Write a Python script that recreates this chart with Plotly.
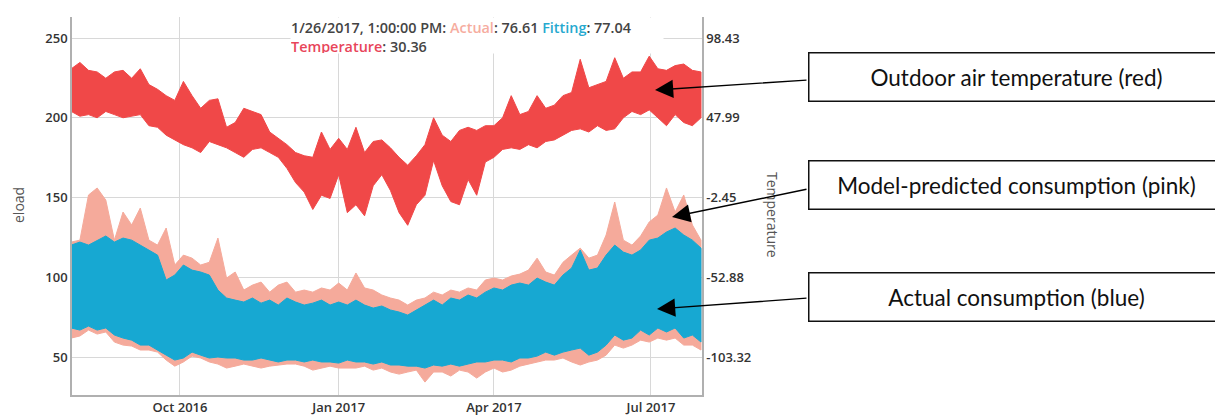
import pandas as pd
import plotly.graph_objects as go

# ---------------- data (5-day envelopes) ----------------
dates = pd.date_range("2016-07-30", periods=74, freq="5D")

temp_high = [79, 83, 78, 77, 73, 77, 78, 73, 79, 69, 66, 62, 59, 71, 62, 54, 59, 60, 42, 45,
             54, 52, 50, 39, 35, 31, 26, 24, 23, 39, 28, 35, 28, 42, 26, 33, 34, 29, 23, 18,
             24, 31, 48, 37, 33, 40, 42, 40, 43, 43, 48, 62, 50, 52, 62, 54, 56, 62, 64, 85,
             67, 69, 71, 86, 73, 77, 77, 87, 79, 78, 81, 82, 78, 77]
temp_low = [52, 49, 50, 48, 52, 50, 48, 49, 50, 43, 42, 37, 34, 31, 29, 26, 33, 31, 29, 26,
            23, 28, 29, 26, 23, 16, 7, 1, -10, -1, -3, 12, -12, -7, -14, 5, 12, 2, -12, -20,
            -7, -1, 21, 5, -5, -7, 9, -1, 20, 23, 28, 29, 28, 31, 29, 33, 34, 37, 40, 41,
            39, 43, 40, 41, 48, 52, 50, 53, 48, 43, 50, 45, 43, 48]

actual_high = [120.2, 122.1, 120.2, 123.3, 125.9, 122.1, 124.6, 123.3, 120.2, 117.1, 113.9, 98.3,
               101.4, 107.7, 104.5, 103.3, 101.4, 92.0, 87.0, 85.7, 84.5, 87.0, 83.8, 85.7,
               82.6, 87.0, 84.5, 82.6, 83.8, 85.7, 82.6, 84.5, 82.6, 85.7, 82.6, 80.7, 82.0,
               79.5, 78.2, 76.3, 79.5, 82.6, 85.7, 82.6, 87.0, 85.7, 88.9, 87.0, 90.7, 93.3,
               92.0, 95.1, 96.4, 95.1, 99.5, 97.0, 95.1, 101.4, 105.8, 117.1, 104.5, 105.8,
               113.9, 120.2, 115.8, 113.9, 117.1, 123.3, 124.6, 128.4, 130.9, 126.5, 123.3, 118.3]
actual_low = [68.2, 66.9, 69.4, 66.9, 68.2, 63.8, 61.9, 60.6, 57.5, 57.5, 54.4, 51.2, 48.1, 49.4,
              53.1, 51.2, 49.4, 50.0, 49.4, 49.4, 48.1, 48.1, 49.4, 48.1, 46.9, 48.1, 48.1, 46.9,
              48.1, 46.9, 46.9, 46.2, 48.1, 46.9, 46.9, 45.6, 46.9, 45.0, 45.0, 44.3, 44.3, 43.1,
              45.0, 44.3, 45.6, 44.3, 45.6, 46.9, 46.9, 48.1, 48.1, 46.9, 49.4, 49.4, 50.6, 53.1,
              51.2, 53.1, 54.4, 55.6, 51.2, 53.1, 57.5, 63.8, 60.6, 61.9, 66.9, 63.8, 68.2, 65.7,
              68.2, 61.9, 63.8, 59.4]

fitting_high = [122.1, 123.3, 151.6, 156.0, 148.4, 123.3, 140.9, 132.8, 143.4, 123.3, 120.2, 130.9,
                107.7, 113.9, 112.0, 107.7, 109.4, 124.6, 99.5, 103.3, 92.0, 95.1, 97.0, 90.7,
                95.1, 97.0, 90.7, 92.0, 90.7, 93.3, 92.0, 96.4, 92.0, 102.7, 93.3, 92.0, 88.9,
                87.0, 85.7, 82.6, 85.7, 87.0, 90.7, 88.9, 92.0, 90.7, 93.3, 92.0, 98.3, 99.5,
                98.3, 100.8, 102.0, 104.5, 112.0, 103.3, 101.4, 109.4, 113.9, 118.3, 112.0, 113.9,
                126.5, 147.2, 123.3, 120.2, 125.9, 134.7, 139.0, 156.0, 140.9, 151.6, 132.8, 123.3]
fitting_low = [61.9, 63.2, 66.9, 64.4, 65.7, 59.4, 57.5, 56.9, 54.4, 54.4, 53.1, 48.1, 44.3, 46.9,
               50.6, 49.4, 46.9, 45.6, 43.1, 44.3, 45.6, 44.3, 43.1, 44.3, 45.0, 45.6, 45.6, 44.3,
               41.8, 43.1, 44.3, 43.1, 43.1, 43.1, 44.3, 41.8, 43.1, 40.6, 39.3, 40.6, 41.8, 34.3,
               40.6, 40.6, 38.1, 41.8, 40.6, 36.8, 40.6, 43.1, 40.6, 41.8, 44.3, 45.6, 46.9, 48.1,
               48.1, 49.4, 46.9, 45.0, 46.9, 48.1, 51.2, 57.5, 55.6, 57.5, 60.6, 59.4, 61.9, 60.6,
               61.9, 57.5, 57.5, 54.4]

x_tick_vals = ["2016-10-01", "2017-01-01", "2017-04-01", "2017-07-01"]
x_tick_text = ["Oct 2016", "Jan 2017", "Apr 2017", "Jul 2017"]
eload_ticks = [50, 100, 150, 200, 250]
temp_ticks = [98.43, 47.99, -2.45, -52.88, -103.32]

# ---------------- styling ----------------
RED = "#f04848"
BLUE = "#17a8d2"
PINK = "#f5aa9b"
TICK_FONT = dict(family="Open Sans", size=13, color="#333333", weight=600)

xs = list(dates)
band_x = xs + xs[::-1]


def band(high, low, color, yaxis="y"):
    return go.Scatter(
        x=band_x, y=list(high) + list(low)[::-1],
        fill="toself", fillcolor=color, mode="lines",
        line=dict(color=color, width=1), yaxis=yaxis, hoverinfo="skip",
    )


fig = go.Figure()
fig.add_trace(band(fitting_high, fitting_low, PINK))
fig.add_trace(band(actual_high, actual_low, BLUE))
fig.add_trace(band(temp_high, temp_low, RED, yaxis="y2"))

fig.update_layout(
    width=1215, height=415,
    margin=dict(l=72, r=513, t=17, b=20, autoexpand=False),
    plot_bgcolor="white", paper_bgcolor="white",
    showlegend=False,
    xaxis=dict(
        type="date", range=["2016-07-30 10:00", "2017-07-30 14:00"],
        tickvals=x_tick_vals, ticktext=x_tick_text, automargin=False,
        showgrid=True, gridcolor="#d8d8d8", gridwidth=1,
        showline=True, linecolor="#b0b0b0", linewidth=1.5,
        ticks="", tickfont=TICK_FONT, zeroline=False,
    ),
    yaxis=dict(
        range=[26.2, 263.2], tickvals=eload_ticks, automargin=False,
        showgrid=True, gridcolor="#d8d8d8", gridwidth=1,
        showline=True, linecolor="#b0b0b0", linewidth=1.5,
        ticks="", tickfont=TICK_FONT, zeroline=False,
    ),
    yaxis2=dict(
        overlaying="y", side="right", automargin=False,
        range=[-127.35, 111.75], tickvals=temp_ticks,
        ticktext=[f"{v:.2f}" for v in temp_ticks],
        showgrid=False, showline=True, linecolor="#b0b0b0", linewidth=1.5,
        ticks="", tickfont=TICK_FONT, zeroline=False,
    ),
)

W0, PW, B0, PH = 72, 630, 395, 378  # plot area in pixels, used to place notes


def px(xp):
    return (xp - W0) / PW


def py(yp):
    return (B0 - yp) / PH


anns = []
# axis titles
anns.append(dict(text="eload", x=px(18), y=py(205), xref="paper", yref="paper",
                 showarrow=False, textangle=-90, xanchor="center", yanchor="middle",
                 font=dict(family="Open Sans", size=14, color="#555555")))
anns.append(dict(text="Temperature", x=px(773), y=py(215), xref="paper", yref="paper",
                 showarrow=False, textangle=90, xanchor="center", yanchor="middle",
                 font=dict(family="Open Sans", size=14, color="#555555")))
# hover legend
legend_txt = (
    "1/26/2017, 1:00:00 PM: <span style='color:#f6ad9f'>Actual</span>: 76.61 "
    "<span style='color:#26a9cf'>Fitting</span>: 77.04<br>"
    "<span style='color:#e8455a'>Temperature</span>: 30.36"
)
anns.append(dict(text=legend_txt, x=px(290), y=py(17), xref="paper", yref="paper",
                 showarrow=False, xanchor="left", yanchor="top", align="left",
                 width=372, height=35, valign="top", bgcolor="white", borderpad=0,
                 font=dict(family="Open Sans", size=14.4, color="#444444", weight=600)))

# call-out boxes (right edges run past the picture, as in the reference)
boxes = [("Outdoor air temperature (red)", 76.5),
         ("Model-predicted consumption (pink)", 185),
         ("Actual consumption (blue)", 296.5)]
for txt, yc in boxes:
    anns.append(dict(text=txt, x=px(1016.5), y=py(yc), xref="paper", yref="paper",
                     showarrow=False, xanchor="center", yanchor="middle",
                     width=414, height=47, bgcolor="white", bordercolor="#111111",
                     borderwidth=1.5, borderpad=0,
                     font=dict(family="Lato", size=22.5, color="#111111")))

arrows = [((655, 90), (808, 80)), ((672, 217), (808, 189)), ((657, 309), (808, 298))]
for (tx, ty), (sx, sy) in arrows:
    anns.append(dict(text="", x=px(tx), y=py(ty), xref="paper", yref="paper",
                     ax=sx - tx, ay=sy - ty, showarrow=True, arrowhead=2,
                     arrowsize=2.6, arrowwidth=1.4, arrowcolor="#000000"))

fig.update_layout(annotations=anns)
fig.write_html("out.html", config={"displayModeBar": False},
               post_script="document.body.style.margin='0';")
